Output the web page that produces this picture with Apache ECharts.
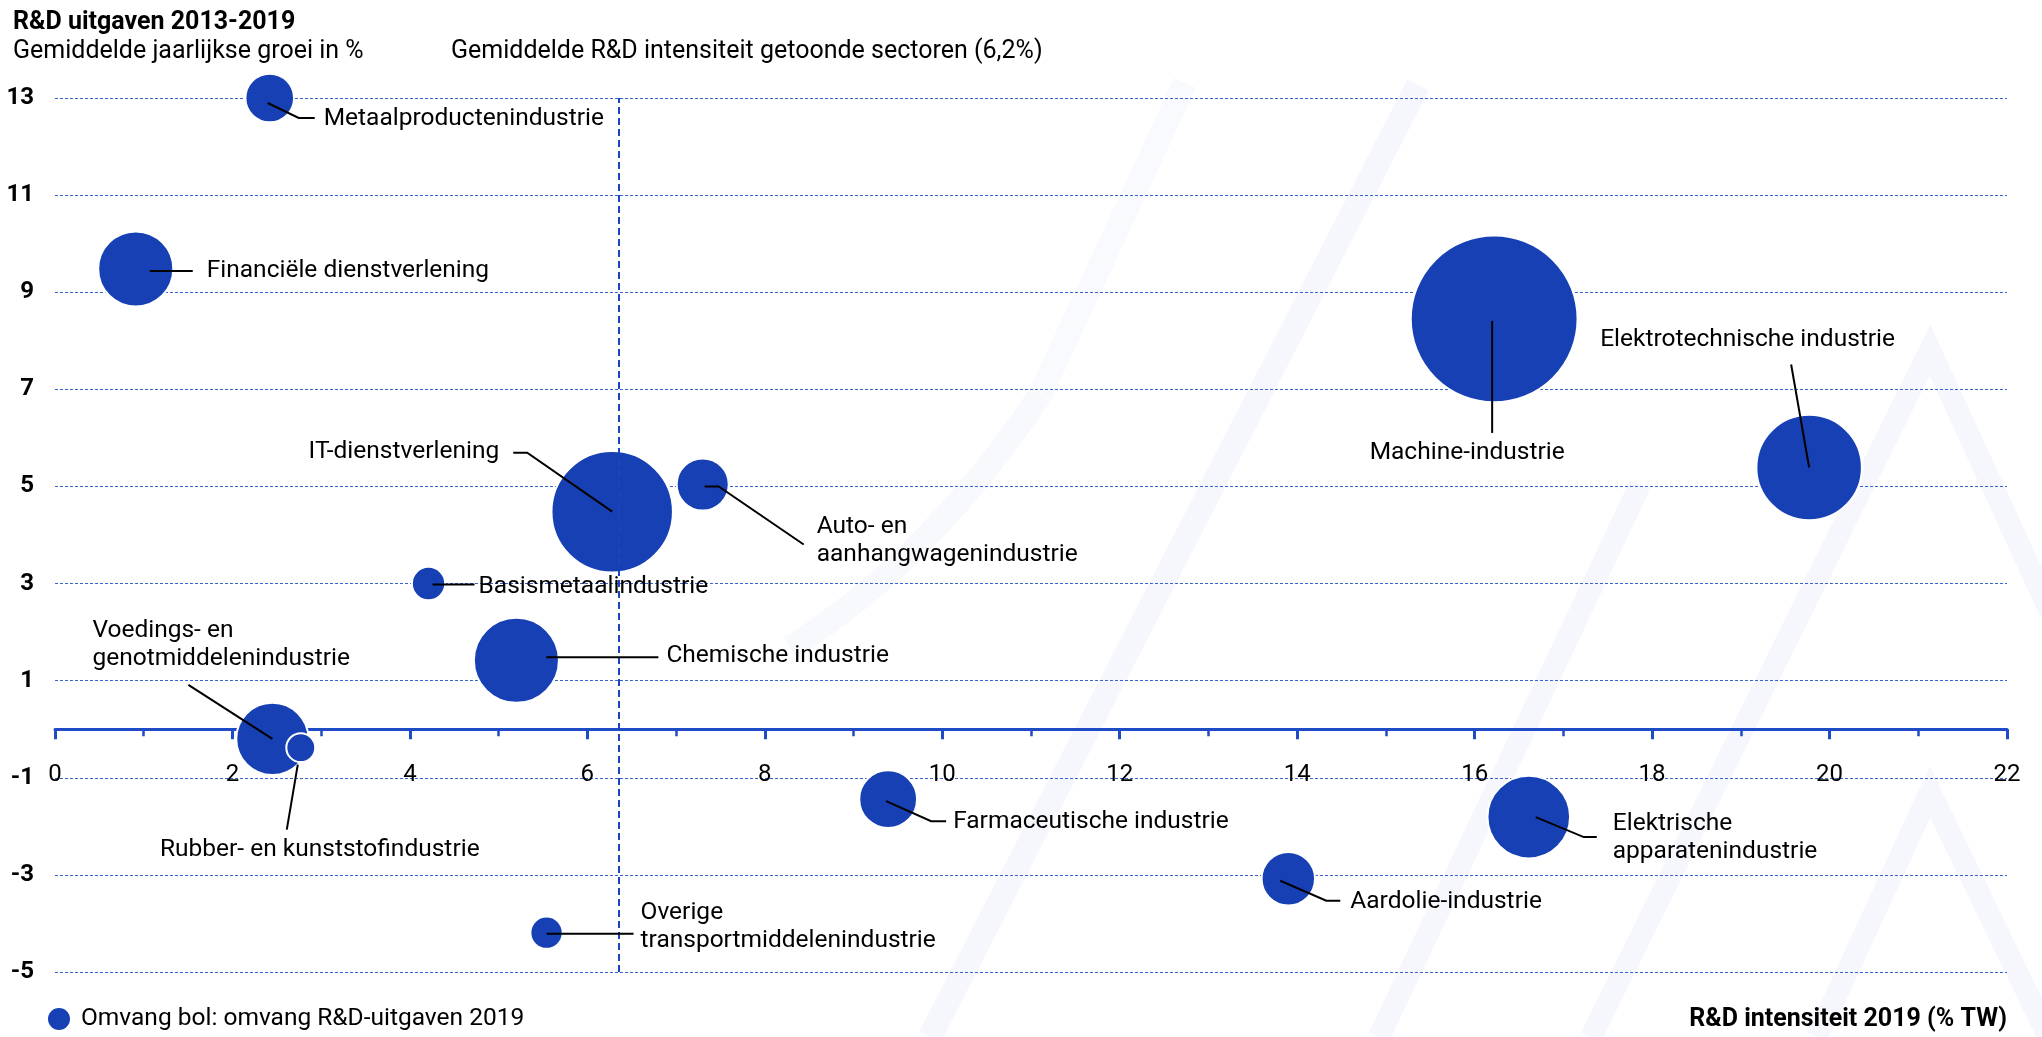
<!DOCTYPE html>
<html>
<head>
<meta charset="utf-8">
<script src="https://cdn.jsdelivr.net/npm/echarts@6/dist/echarts.min.js"></script>
<style>
  html, body { margin: 0; padding: 0; background: #ffffff; }
  #chart { width: 2042px; height: 1037px; }
</style>
</head>
<body>
<div id="chart"></div>
<script>
// ---- data ----
const sectors = [
  'Metaalproductenindustrie',
  'Financiële dienstverlening',
  'Machine-industrie',
  'Elektrotechnische industrie',
  'IT-dienstverlening',
  'Auto- en\naanhangwagenindustrie',
  'Basismetaalindustrie',
  'Chemische industrie',
  'Voedings- en\ngenotmiddelenindustrie',
  'Rubber- en kunststofindustrie',
  'Overige\ntransportmiddelenindustrie',
  'Farmaceutische industrie',
  'Aardolie-industrie',
  'Elektrische\napparatenindustrie'
];
// R&D intensiteit 2019 (% TW)
const intensity = [2.42, 0.91, 16.22, 19.77, 6.28, 7.30, 4.21, 5.20, 2.45, 2.77, 5.54, 9.39, 13.90, 16.61];
// Gemiddelde jaarlijkse groei R&D uitgaven 2013-2019 (%)
const growth = [13.0, 9.48, 8.45, 5.39, 4.48, 5.04, 3.0, 1.42, -0.2, -0.38, -4.19, -1.44, -3.08, -1.81];
// Omvang R&D-uitgaven 2019 (relatieve omvang, bubble area)
const spend = [170, 405, 2000, 800, 1060, 195, 80, 520, 375, 60, 75, 240, 205, 490];
// gemiddelde R&D intensiteit getoonde sectoren (positie van lijn zoals getekend)
const avgIntensity = 6.35;
const xTicks = { min: 0, max: 22, interval: 2 };
const yTicks = { min: -5, max: 13, interval: 2 };

// ---- layout / style (pixel offsets relative to bubble centre) ----
const labelLayout = [
  { line: [[-2, 5], [29, 20], [45, 20]], tx: 54, ty: 21, align: 'left' },
  { line: [[14, 2], [57, 2]], tx: 71, ty: 2, align: 'left' },
  { line: [[-2, 2], [-2, 114]], tx: -27, ty: 134, align: 'center' },
  { line: [[0, 0], [-18, -103]], tx: -209, ty: -128, align: 'left' },
  { line: [[0, 0], [-85, -59], [-99, -59]], tx: -113, ty: -60, align: 'right' },
  { line: [[2, 2], [16, 2], [101, 60]], tx: 114, ty: 56, align: 'left' },
  { line: [[4, 1], [46, 1]], tx: 50, ty: 3, align: 'left' },
  { line: [[30, -3], [142, -3]], tx: 150, ty: -4, align: 'left' },
  { line: [[0, 0], [-84, -54]], tx: -180, ty: -94, align: 'left' },
  { line: [[-3, 17], [-14, 82]], tx: 19, ty: 102, align: 'center' },
  { line: [[0, 1], [87, 1]], tx: 94, ty: -6, align: 'left' },
  { line: [[-2, 2], [43, 22], [58, 22]], tx: 65, ty: 23, align: 'left' },
  { line: [[-8, 2], [38, 22], [52, 22]], tx: 62, ty: 23, align: 'left' },
  { line: [[7, 0], [55, 20], [68, 20]], tx: 84, ty: 21, align: 'left' }
];
const BLUE = '#1740B5';
const AXIS_BLUE = '#1f4cc6';
const FONT = 'Roboto';
const sizeK = 3.73;
const GRID = { left: 55, right: 35, top: 98, bottom: 65 };
const CHART_H = 1037;
// place the x axis at y = 0 (offset from the bottom edge of the grid)
const gridH = CHART_H - GRID.top - GRID.bottom;
const xAxisOffset = -gridH * (0 - yTicks.min) / (yTicks.max - yTicks.min);

const points = intensity.map((x, i) => [x, growth[i], spend[i]]);
const legendName = 'Omvang bol: omvang R&D-uitgaven 2019';

const chart = echarts.init(document.getElementById('chart'), null, { renderer: 'canvas' });

const option = {
  backgroundColor: '#ffffff',
  animation: false,
  textStyle: { fontFamily: FONT },
  title: [
    { text: 'R&D uitgaven 2013-2019', left: 13, top: 10, padding: 0,
      textStyle: { fontFamily: FONT, fontSize: 25, fontWeight: 'bold', color: '#000' } },
    { text: 'Gemiddelde jaarlijkse groei in %', left: 13, top: 39, padding: 0,
      textStyle: { fontFamily: FONT, fontSize: 25, fontWeight: 'normal', color: '#000' } },
    { text: 'Gemiddelde R&D intensiteit getoonde sectoren (6,2%)', left: 451, top: 39, padding: 0,
      textStyle: { fontFamily: FONT, fontSize: 25, fontWeight: 'normal', color: '#000' } },
    { text: 'R&D intensiteit 2019 (% TW)', right: 35, top: 1007, padding: 0,
      textStyle: { fontFamily: FONT, fontSize: 25, fontWeight: 'bold', color: '#000' } }
  ],
  legend: {
    data: [legendName],
    left: 46, top: 1006, padding: 0,
    icon: 'circle', itemWidth: 24, itemHeight: 24,
    textStyle: { fontFamily: FONT, fontSize: 24.5, color: '#000', padding: [0, 0, 0, 5] },
    selectedMode: false
  },
  graphic: [
    { type: 'polyline', z: -10, silent: true,
      shape: { points: [[1418, 85], [930, 1037]] },
      style: { stroke: '#f5f7fc', lineWidth: 24, fill: null } },
    { type: 'bezierCurve', z: -10, silent: true,
      shape: { x1: 1040, y1: 395, cpx1: 930, cpy1: 560, x2: 790, y2: 648 },
      style: { stroke: '#f8f9fd', lineWidth: 24, fill: null } },
    { type: 'polyline', z: -10, silent: true,
      shape: { points: [[1185, 83], [1040, 395]] },
      style: { stroke: '#f9fafd', lineWidth: 24, fill: null } },
    { type: 'polyline', z: -10, silent: true,
      shape: { points: [[1591, 1037], [1930, 350], [2050, 612]] },
      style: { stroke: '#f5f7fc', lineWidth: 22, fill: null, lineJoin: 'miter' } },
    { type: 'polyline', z: -10, silent: true,
      shape: { points: [[1817, 1037], [1930, 792], [2050, 1040]] },
      style: { stroke: '#f5f7fc', lineWidth: 22, fill: null, lineJoin: 'miter' } },
    { type: 'polyline', z: -10, silent: true,
      shape: { points: [[1640, 485], [1379, 1037]] },
      style: { stroke: '#f6f7fc', lineWidth: 22, fill: null } }
  ],
  grid: GRID,
  xAxis: {
    type: 'value',
    min: xTicks.min, max: xTicks.max, interval: xTicks.interval,
    position: 'bottom',
    offset: xAxisOffset,
    axisLine: { show: true, onZero: false, lineStyle: { color: AXIS_BLUE, width: 3 } },
    axisTick: { show: true, length: 10, lineStyle: { color: AXIS_BLUE, width: 3 } },
    minorTick: { show: true, splitNumber: 2, length: 7, lineStyle: { color: AXIS_BLUE, width: 2.5 } },
    axisLabel: { margin: 34, color: '#000', fontFamily: FONT, fontSize: 24 },
    splitLine: { show: false },
    minorSplitLine: { show: false }
  },
  yAxis: {
    type: 'value',
    min: yTicks.min, max: yTicks.max, interval: yTicks.interval,
    axisLine: { show: false },
    axisTick: { show: false },
    axisLabel: { margin: 21, color: '#000', fontFamily: FONT, fontSize: 24, fontWeight: 'bold' },
    splitLine: { show: true, lineStyle: { color: '#3a62cf', width: 1, type: [3, 2] } }
  },
  series: [
    {
      name: 'gemiddelde',
      type: 'scatter',
      data: [],
      z: 1,
      silent: true,
      markLine: {
        silent: true,
        symbol: ['none', 'none'],
        label: { show: false },
        lineStyle: { color: '#1a44c0', width: 2, type: [7, 4] },
        data: [{ xAxis: avgIntensity }]
      }
    },
    {
      name: legendName,
      type: 'scatter',
      z: 3,
      data: points,
      symbol: 'circle',
      symbolSize: (val) => sizeK * Math.sqrt(val[2]),
      itemStyle: { color: BLUE, opacity: 1, borderColor: '#ffffff', borderWidth: 2 },
      emphasis: { disabled: true }
    },
    {
      name: 'labels',
      type: 'custom',
      z: 5,
      silent: true,
      data: points,
      renderItem: function (params, api) {
        const i = params.dataIndex;
        const c = api.coord([api.value(0), api.value(1)]);
        const L = labelLayout[i];
        return {
          type: 'group',
          children: [
            {
              type: 'polyline',
              shape: { points: L.line.map(p => [c[0] + p[0], c[1] + p[1]]) },
              style: { stroke: '#000', lineWidth: 2, fill: null }
            },
            {
              type: 'text',
              x: c[0] + L.tx,
              y: c[1] + L.ty,
              style: {
                text: sectors[i],
                font: '24.5px Roboto',
                fill: '#000',
                align: L.align,
                verticalAlign: 'middle',
                lineHeight: 28
              }
            }
          ]
        };
      }
    }
  ]
};
chart.setOption(option);
</script>
</body>
</html>
